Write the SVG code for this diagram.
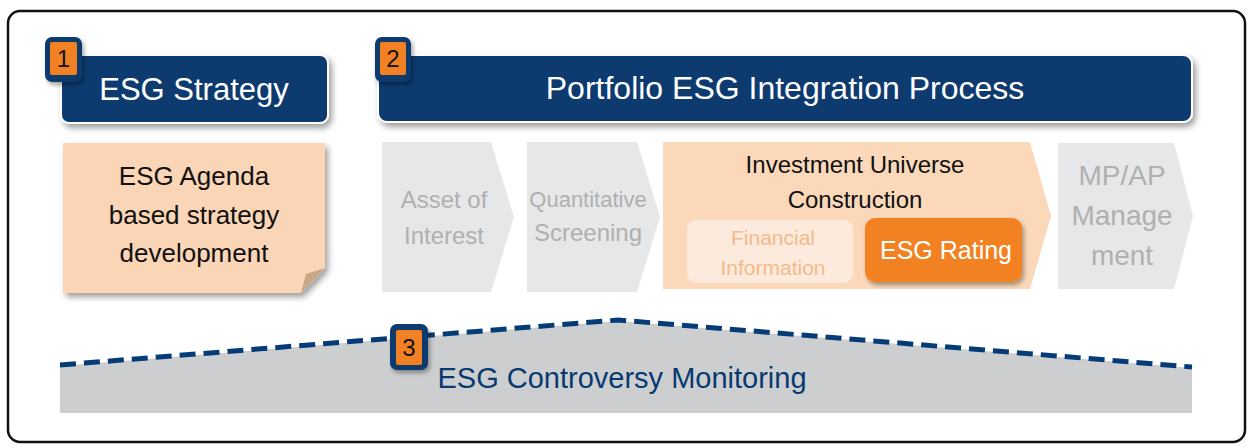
<svg xmlns="http://www.w3.org/2000/svg" width="1249" height="448" viewBox="0 0 1249 448">
  <style>
    text { font-family: "Liberation Sans", Arial, sans-serif; text-anchor: middle; }
    .hdr { fill: #073a70; stroke: #ffffff; stroke-width: 2; }
    .hdr-t { fill: #ffffff; font-size: 31px; }
    .badge-o { fill: #0a3a6e; }
    .badge-i { fill: #f28124; }
    .badge-t { fill: #111111; font-size: 24px; }
    .step { fill: #e6e7e8; }
    .step-t { fill: #b0b0b0; font-size: 24px; }
    .active { fill: #fad8b9; }
    .body-t { fill: #111111; font-size: 26px; }
  </style>
  <defs>
    <filter id="shadow" x="-10%" y="-20%" width="130%" height="150%">
      <feDropShadow dx="3" dy="4" stdDeviation="3" flood-color="#000" flood-opacity="0.38"/>
    </filter>
    <filter id="soft" x="-10%" y="-20%" width="130%" height="150%">
      <feDropShadow dx="2" dy="3" stdDeviation="2" flood-color="#000" flood-opacity="0.35"/>
    </filter>
  </defs>

  <!-- outer frame -->
  <rect x="8" y="11" width="1237" height="431" rx="12" fill="#ffffff" stroke="#111111" stroke-width="2.5"/>

  <!-- stage 1 header -->
  <g id="strategy-header">
    <rect class="hdr" x="61" y="55" width="267" height="68" rx="8" filter="url(#shadow)"/>
    <text class="hdr-t" x="194" y="100">ESG Strategy</text>
  </g>
  <g id="badge-1">
    <rect class="badge-o" x="45" y="37" width="37" height="45" rx="7" filter="url(#soft)"/>
    <rect class="badge-i" x="50" y="42" width="27" height="33" rx="2"/>
    <text class="badge-t" x="63.5" y="67">1</text>
  </g>

  <!-- stage 1 body: note card with folded corner -->
  <g id="strategy-body">
    <path d="M63,143 H325 V268 L301,293 H63 Z" fill="#fad5b6" filter="url(#shadow)"/>
    <path d="M301,293 L306,274 L325,268 Z" fill="#c9a886"/>
    <text class="body-t" x="194" y="185">ESG Agenda</text>
    <text class="body-t" x="194" y="224">based strategy</text>
    <text class="body-t" x="194" y="262">development</text>
  </g>

  <!-- stage 2 header -->
  <g id="process-header">
    <rect class="hdr" x="378" y="55" width="814" height="67" rx="9" filter="url(#shadow)"/>
    <text class="hdr-t" x="785" y="99" style="font-size:32px">Portfolio ESG Integration Process</text>
  </g>
  <g id="badge-2">
    <rect class="badge-o" x="375" y="37" width="36" height="45" rx="7" filter="url(#soft)"/>
    <rect class="badge-i" x="380" y="42" width="26" height="33" rx="2"/>
    <text class="badge-t" x="393" y="67">2</text>
  </g>

  <!-- process steps -->
  <g id="step-asset">
    <path class="step" d="M382,142 H491 L514,217 L491,292 H382 Z"/>
    <text class="step-t" x="444" y="208">Asset of</text>
    <text class="step-t" x="444" y="244">Interest</text>
  </g>
  <g id="step-screening">
    <path class="step" d="M527,142 H637 L660,217 L637,292 H527 Z"/>
    <text class="step-t" x="588" y="207" style="font-size:22px">Quantitative</text>
    <text class="step-t" x="588" y="241">Screening</text>
  </g>
  <g id="step-universe">
    <path class="active" d="M663,142 H1030 L1051,216 L1030,289 H663 Z"/>
    <text class="body-t" x="855" y="173" style="font-size:24px">Investment Universe</text>
    <text class="body-t" x="855" y="208" style="font-size:24px">Construction</text>
  </g>
  <g id="financial-info">
    <rect x="687" y="220" width="166" height="63" rx="9" fill="#fcebdc"/>
    <text x="773" y="245" style="font-size:21px; fill:#f5b98a">Financial</text>
    <text x="773" y="275" style="font-size:21px; fill:#f5b98a">Information</text>
  </g>
  <g id="esg-rating">
    <rect x="865" y="218" width="157" height="64" rx="10" fill="#f28124" filter="url(#soft)"/>
    <text x="946" y="259" style="font-size:25px; fill:#ffffff">ESG Rating</text>
  </g>
  <g id="step-management">
    <path class="step" d="M1058,143 H1174 L1193,216 L1174,289 H1058 Z"/>
    <text class="step-t" x="1122" y="185" style="font-size:28px">MP/AP</text>
    <text class="step-t" x="1122" y="225" style="font-size:28px">Manage</text>
    <text class="step-t" x="1122" y="265" style="font-size:28px">ment</text>
  </g>

  <!-- stage 3: monitoring band -->
  <g id="monitoring">
    <path d="M60,366 L618,321 L1192,368 V413 H60 Z" fill="#cdced0"/>
    <polyline points="60,365 618,320 1192,367" fill="none" stroke="#053c78" stroke-width="5" stroke-dasharray="16,8"/>
    <text x="622" y="388" style="font-size:29px; fill:#073a70">ESG Controversy Monitoring</text>
  </g>
  <g id="badge-3">
    <rect class="badge-o" x="390" y="324" width="38" height="46" rx="7" filter="url(#soft)"/>
    <rect class="badge-i" x="396" y="330" width="26" height="35" rx="2"/>
    <text class="badge-t" x="409" y="356">3</text>
  </g>
</svg>
